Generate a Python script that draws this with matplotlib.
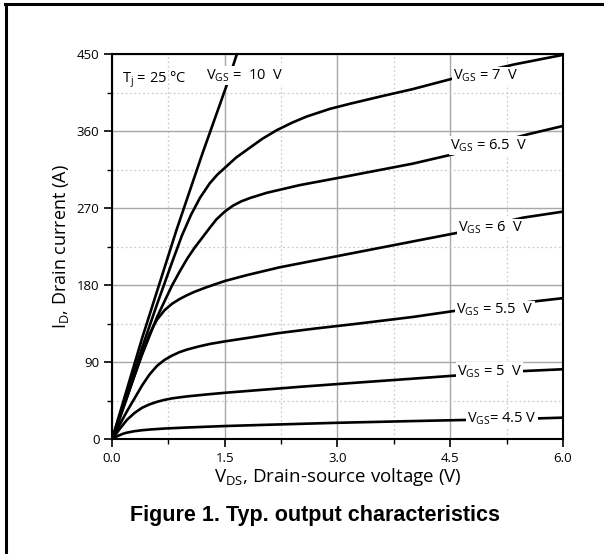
import matplotlib
matplotlib.use("Agg")
import matplotlib.pyplot as plt
from matplotlib.lines import Line2D
from matplotlib.ticker import MultipleLocator

plt.rcParams['font.family'] = ['Open Sans', 'DejaVu Sans']
plt.rcParams['mathtext.fontset'] = 'custom'
plt.rcParams['mathtext.rm'] = 'Open Sans'
plt.rcParams['mathtext.it'] = 'Open Sans:italic'

# output curves (VDS in V, ID in A)
v_45 = [0, 0.05, 0.1, 0.15, 0.2, 0.3, 0.4, 0.5, 0.7, 1.0, 1.5, 2.0, 3.0, 4.0, 4.7, 5.5, 6.0]
i_45 = [0, 3, 5, 6.8, 8, 9.7, 10.8, 11.6, 12.8, 14, 15.7, 17, 19.5, 21.5, 22.8, 24.2, 25.5]

v_5 = [0, 0.1, 0.2, 0.3, 0.4, 0.5, 0.6, 0.7, 0.8, 0.9, 1.0, 1.25, 1.5, 2.0, 2.5, 3.2, 4.0, 4.55, 5.5, 6.0]
i_5 = [0, 12, 23, 31, 37, 41, 44, 46.3, 48, 49.2, 50.3, 52.5, 54.5, 58, 61.5, 66, 71, 74.5, 80, 82]

v_55 = [0, 0.1, 0.2, 0.3, 0.4, 0.5, 0.6, 0.7, 0.8, 0.9, 1.0, 1.15, 1.3, 1.5, 1.8, 2.2, 2.7, 3.2,
        4.0, 4.55, 5.6, 6.0]
i_55 = [0, 17, 33, 48, 63, 76, 86, 93, 98, 102, 105, 108.5, 111.5, 114.5, 118.5, 124, 129.5, 134.5,
        143, 150, 161, 165]

v_6 = [0, 0.1, 0.2, 0.3, 0.4, 0.5, 0.55, 0.6, 0.7, 0.8, 0.9, 1.0, 1.1, 1.25, 1.5, 1.8, 2.23, 2.7,
       3.17, 4.05, 4.58, 5.47, 6.0]
i_6 = [0, 24, 49, 75, 100, 123, 132, 140, 151, 158.5, 164, 168.5, 172.5, 177.5, 185, 192, 201, 209,
       217, 232, 241, 259, 266]

v_65 = [0, 0.2, 0.4, 0.6, 0.8, 0.9, 1.0, 1.1, 1.17, 1.3, 1.39, 1.5, 1.61, 1.72, 1.84, 2.06, 2.5,
        3.17, 4.0, 4.54, 5.52, 6.0]
i_65 = [0, 50, 99, 143, 180, 196, 211, 224, 232, 247, 257, 266, 273, 278, 282, 288, 297,
        308, 322, 333, 356, 366]

v_7 = [0, 0.2, 0.4, 0.6, 0.8, 0.93, 1.05, 1.17, 1.3, 1.4, 1.5, 1.65, 1.84, 2.0, 2.19, 2.4, 2.59,
       2.9, 3.17, 3.6, 4.0, 4.52, 5.36, 6.0]
i_7 = [0, 54, 107, 158, 207, 238, 262, 282, 299, 309, 317, 329, 341, 351, 361, 370, 377,
       386, 392, 401, 409, 421, 438, 449]

v_10 = [0, 0.4, 0.86, 1.2, 1.54, 1.68]
i_10 = [0, 118, 245, 333, 417, 455]

curves = [(v_45, i_45), (v_5, i_5), (v_55, i_55), (v_6, i_6),
          (v_65, i_65), (v_7, i_7), (v_10, i_10)]

# curve labels: text, x, y
labels = [
    ('V$_\\mathrm{GS}$= 4.5 V', 4.72, 24.5),
    ('V$_\\mathrm{GS}$ = 5  V', 4.59, 79),
    ('V$_\\mathrm{GS}$ = 5.5  V', 4.58, 151),
    ('V$_\\mathrm{GS}$ = 6  V', 4.6, 247),
    ('V$_\\mathrm{GS}$ = 6.5  V', 4.5, 343),
    ('V$_\\mathrm{GS}$ = 7  V', 4.54, 424),
    ('V$_\\mathrm{GS}$ =  10  V', 1.25, 425),
]

xticks = [0.0, 1.5, 3.0, 4.5, 6.0]
yticks = [0, 90, 180, 270, 360, 450]

fig = plt.figure(figsize=(6.04, 5.54), dpi=100)
ax = fig.add_axes([0.1854, 0.2067, 0.7467, 0.6958])

for v, i in curves:
    ax.plot(v, i, color='black', lw=1.9, zorder=3, solid_capstyle='butt', solid_joinstyle='round')

for txt, x, y in labels:
    ax.text(x, y, txt, fontsize=10.5, ha='left', va='center', zorder=5,
            bbox=dict(facecolor='white', edgecolor='none', pad=0.8))

ax.text(0.13, 420, 'T$_\\mathrm{j}$ = 25 °C', fontsize=10.5, ha='left', va='center', zorder=5)

ax.set_xlim(0, 6)
ax.set_ylim(0, 450)
ax.set_xticks(xticks)
ax.set_xticklabels(['%.1f' % t for t in xticks])
ax.set_yticks(yticks)
ax.xaxis.set_minor_locator(MultipleLocator(0.75))
ax.yaxis.set_minor_locator(MultipleLocator(45))
ax.tick_params(which='major', direction='out', length=6, width=1.2, labelsize=9.5, pad=3)
ax.tick_params(which='minor', direction='out', length=3.5, width=1.0)
ax.grid(which='major', color='#a8a8a8', lw=1.0, zorder=0)
ax.grid(which='minor', color='#cccccc', lw=0.9, ls=(0, (1.5, 2)), zorder=0)
ax.set_axisbelow(True)
for s in ax.spines.values():
    s.set_linewidth(1.5)

ax.set_xlabel('V$_\\mathrm{DS}$, Drain-source voltage (V)', fontsize=13.5, labelpad=1)
ax.set_ylabel('I$_\\mathrm{D}$, Drain current (A)', fontsize=13, labelpad=4)

fig.text(315 / 604, 1 - 515 / 554, 'Figure 1. Typ. output characteristics',
         family='Liberation Sans', fontweight='bold', fontsize=15.5, ha='center', va='center')

# border of the datasheet box
fig.add_artist(Line2D([5.5 / 604, 5.5 / 604], [0, 1 - 3.5 / 554], color='black', lw=2.2,
                      transform=fig.transFigure))
fig.add_artist(Line2D([4.5 / 604, 1], [1 - 3.5 / 554, 1 - 3.5 / 554], color='black', lw=2.2,
                      transform=fig.transFigure))

fig.savefig('out.png', dpi=100)
